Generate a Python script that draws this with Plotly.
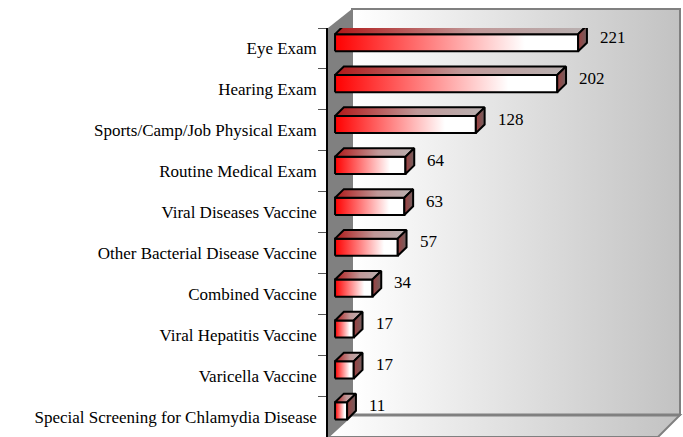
import base64
import plotly.graph_objects as go

categories = [
    "Eye Exam",
    "Hearing Exam",
    "Sports/Camp/Job Physical Exam",
    "Routine Medical Exam",
    "Viral Diseases Vaccine",
    "Other Bacterial Disease Vaccine",
    "Combined Vaccine",
    "Viral Hepatitis Vaccine",
    "Varicella Vaccine",
    "Special Screening for Chlamydia Disease",
]
counts = [221, 202, 128, 64, 63, 57, 34, 17, 17, 11]

W, H = 683, 437
L, R, T, B = 328, 3, 28, 0
font = "Liberation Serif"

# 3D look: depth offsets in data units
dx, dy = 8, 0.21
lo, hi = -0.07, 0.35

# background box (walls + floor), drawn as an svg behind the plot
svg = f"""<svg xmlns="http://www.w3.org/2000/svg" width="{W}" height="{H}" viewBox="0 0 {W} {H}" preserveAspectRatio="none">
<defs><linearGradient id="g" x1="0" x2="1" y1="0" y2="0">
<stop offset="0" stop-color="#ffffff"/><stop offset="1" stop-color="#c2c2c2"/></linearGradient></defs>
<polygon points="352,415 680,415 658,437 328,437" fill="url(#g)" stroke="#808080" stroke-width="2"/>
<rect x="352" y="9" width="328" height="406" fill="url(#g)" stroke="#808080" stroke-width="2"/>
<polygon points="328,28 352,9 352,415 328,437" fill="#808080"/>
<line x1="352" y1="415" x2="680" y2="415" stroke="#808080" stroke-width="3"/>
</svg>"""
src = "data:image/svg+xml;base64," + base64.b64encode(svg.encode()).decode()

pw, ph = W - L - R, H - T - B

fig = go.Figure()
n = len(categories)
for i, v in enumerate(counts):
    c = n - 1 - i
    b, t = c + lo, c + hi
    # front face
    fig.add_trace(go.Scatter(
        x=[0, v, v, 0, 0], y=[b, b, t, t, b], mode="lines", fill="toself",
        fillgradient=dict(type="horizontal",
                          colorscale=[[0, "#ff0000"], [0.78, "#ffffff"], [1, "#ffffff"]]),
        line=dict(color="black", width=2), hoverinfo="skip", showlegend=False))
    # top face
    fig.add_trace(go.Scatter(
        x=[0, v, v + dx, dx, 0], y=[t, t, t + dy, t + dy, t], mode="lines", fill="toself",
        fillgradient=dict(type="horizontal",
                          colorscale=[[0, "#b01818"], [0.55, "#c09898"], [1, "#b8b0b0"]]),
        line=dict(color="black", width=2), hoverinfo="skip", showlegend=False))
    # side face
    fig.add_trace(go.Scatter(
        x=[v, v + dx, v + dx, v, v], y=[b, b + dy, t + dy, t, b], mode="lines", fill="toself",
        fillgradient=dict(type="horizontal",
                          colorscale=[[0, "#a04040"], [1, "#706060"]]),
        line=dict(color="black", width=2), hoverinfo="skip", showlegend=False))
    fig.add_annotation(x=v, y=c + 0.27, text=str(v), showarrow=False,
                       xanchor="left", xshift=20, font=dict(family=font, size=17, color="black"))

fig.update_layout(
    width=W, height=H,
    margin=dict(l=L, r=R, t=T, b=B),
    paper_bgcolor="white", plot_bgcolor="rgba(0,0,0,0)",
    images=[dict(source=src, xref="paper", yref="paper",
                 x=-L / pw, y=1 + T / ph, sizex=W / pw, sizey=H / ph,
                 xanchor="left", yanchor="top", sizing="stretch", layer="below")],
    xaxis=dict(range=[-6.4, 313.6], visible=False, fixedrange=True),
    yaxis=dict(range=[-0.5, n - 0.5], tickvals=list(range(n)),
               ticktext=categories[::-1], ticks="", showgrid=False, zeroline=False,
               showline=True, linecolor="black", linewidth=1.5, layer="above traces",
               ticklabelstandoff=6, fixedrange=True,
               tickfont=dict(family=font, size=17, color="black"),
               minor=dict(ticks="outside", tick0=-0.5, dtick=1, ticklen=8,
                          tickcolor="#555555", showgrid=False)),
)

fig.write_html("out.html", config={"displayModeBar": False},
               post_script="document.body.style.margin='0';")
